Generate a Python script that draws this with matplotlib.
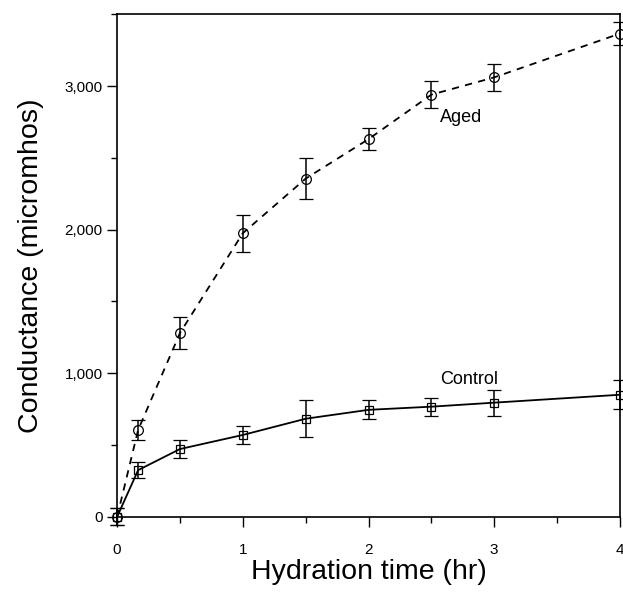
import matplotlib.pyplot as plt
from matplotlib.ticker import MultipleLocator, FuncFormatter

plt.rcParams['font.family'] = ['Liberation Sans', 'DejaVu Sans']

hours = [0, 0.167, 0.5, 1, 1.5, 2, 2.5, 3, 4]
aged = [0, 605, 1280, 1975, 2355, 2630, 2940, 3060, 3365]
aged_err = [60, 70, 108, 130, 145, 78, 92, 95, 78]
control = [0, 325, 472, 570, 683, 745, 767, 795, 850]
control_err = [60, 55, 60, 65, 130, 65, 62, 90, 100]

fig = plt.figure(figsize=(6.23, 5.92), dpi=100)
ax = fig.add_axes([0.188, 0.127, 0.807, 0.849])

ax.errorbar(hours, aged, yerr=aged_err, color='black', linestyle=(0, (4, 3.5)), linewidth=1.3,
            marker='o', markersize=7, markerfacecolor='none', markeredgewidth=0.9,
            capsize=5, elinewidth=1.1, capthick=1.1, clip_on=False)
ax.errorbar(hours, control, yerr=control_err, color='black', linestyle='-', linewidth=1.3,
            marker='s', markersize=6, markerfacecolor='none', markeredgewidth=0.9,
            capsize=5, elinewidth=1.1, capthick=1.1, clip_on=False)

ax.text(2.57, 2780, "Aged", fontsize=13, va='center', ha='left')
ax.text(2.57, 955, "Control", fontsize=13, va='center', ha='left')

ax.set_xlim(0, 4)
ax.set_ylim(0, 3500)
ax.xaxis.set_major_locator(MultipleLocator(1))
ax.xaxis.set_minor_locator(MultipleLocator(0.5))
ax.yaxis.set_major_locator(MultipleLocator(1000))
ax.yaxis.set_minor_locator(MultipleLocator(500))
ax.yaxis.set_major_formatter(FuncFormatter(lambda v, p: f"{int(v):,}"))
ax.tick_params(which='major', length=7, width=1, labelsize=11, direction='out')
ax.tick_params(which='minor', length=4, width=1, direction='out')
ax.tick_params(axis='x', pad=12)

for s in ax.spines.values():
    s.set_linewidth(1.2)

ax.set_xlabel("Hydration time (hr)", fontsize=20.5, labelpad=1)
ax.set_ylabel("Conductance (micromhos)", fontsize=20.5, labelpad=15)

fig.savefig("out.png", dpi=100)
